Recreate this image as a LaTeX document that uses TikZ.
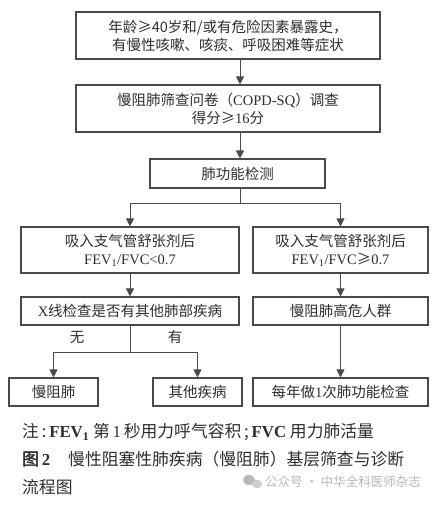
\documentclass[tikz,border=0pt]{standalone}
\usepackage{fontspec}
\setmainfont{Liberation Serif}
\newfontfamily\cjk{Noto Sans CJK SC}
\newfontfamily\cjkb[FakeBold=2]{Noto Sans CJK SC}
\newfontfamily\lat{Liberation Serif}
\usetikzlibrary{arrows.meta}
\definecolor{linec}{HTML}{4A4A4A}
\definecolor{textc}{HTML}{2E2E2E}
\definecolor{wmc}{HTML}{B8B8B8}
\begin{document}
\begin{tikzpicture}[x=1pt,y=-1pt,
  box/.style={draw=linec, line width=1.1pt, rectangle, align=center, inner sep=0pt,
    font=\cjk\fontsize{14.5}{18}\selectfont, text=textc},
  arr/.style={draw=linec, line width=1pt, -{Triangle[width=8pt,length=8pt]}},
  ln/.style={draw=linec, line width=1pt},
  lbl/.style={font=\cjk\fontsize{14.5}{18}\selectfont, text=textc, inner sep=0pt},
  captxt/.style={font=\cjk\fontsize{16.8}{20}\selectfont, text=textc, inner sep=0pt, anchor=west}]
\useasboundingbox[fill=white] (0,0) rectangle (440,512);

\node[box, minimum width=304pt, minimum height=47pt] (b1) at (228,35.5)
  {年龄≥40岁和/或有危险因素暴露史，\\有慢性咳嗽、咳痰、呼吸困难等症状};
\node[box, minimum width=304pt, minimum height=47pt] (b2) at (228,108.5)
  {慢阻肺筛查问卷（{\lat COPD-SQ}）调查\\得分≥{\lat 16}分};
\node[box, minimum width=175pt, minimum height=29pt] (b3) at (237.5,173.5)
  {肺功能检测};

\node[box, minimum width=218pt, minimum height=46pt] (l1) at (130,250)
  {吸入支气管舒张剂后\\{\lat FEV\textsubscript{1}/FVC<0.7}};
\node[box, minimum width=175pt, minimum height=46pt] (r1) at (340.5,250)
  {吸入支气管舒张剂后\\{\lat FEV\textsubscript{1}/FVC}≥{\lat 0.7}};

\node[box, minimum width=218pt, minimum height=28pt] (l2) at (130,311)
  {{\lat X}线检查是否有其他肺部疾病};
\node[box, minimum width=175pt, minimum height=28pt] (r2) at (340.5,311)
  {慢阻肺高危人群};

\node[box, minimum width=89pt, minimum height=28pt] (m1) at (53.5,392) {慢阻肺};
\node[box, minimum width=89pt, minimum height=28pt] (m2) at (197.5,392) {其他疾病};
\node[box, minimum width=175pt, minimum height=28pt] (r3) at (340.5,392)
  {每年做{\lat 1}次肺功能检查};

\node[lbl] (wu) at (77,337) {无};
\node[lbl] (you) at (175,337) {有};

\coordinate (ax) at (240,0);
\coordinate (j1) at (240,203);
\coordinate (j2) at (130,352);

\draw[arr] (b1.south -| ax) -- (b2.north -| ax);
\draw[arr] (b2.south -| ax) -- (b3.north -| ax);
\draw[ln] (b3.south -| ax) -- (j1);
\draw[arr] (j1) -| (l1.north);
\draw[arr] (j1) -| (r1.north);
\draw[arr] (l1) -- (l2);
\draw[arr] (r1) -- (r2);
\draw[arr] (r2) -- (r3);
\draw[ln] (l2.south) -- (j2);
\draw[arr] (j2) -| (m1.north);
\draw[arr] (j2) -| (m2.north);

\node[captxt] (note) at (22,432) {注\,:\,{\lat\bfseries FEV\textsubscript{1}} 第\,{\lat 1}\,秒用力呼气容积\,;\,{\lat\bfseries FVC} 用力肺活量};
\node[captxt] (fig) at (22,459) {{\cjkb 图\,{\lat\bfseries 2}}};
\node[captxt] (title) at (68,459) {慢性阻塞性肺疾病（慢阻肺）基层筛查与诊断};
\node[captxt] (title2) at (22,487) {流程图};

\fill[wmc] (249,480) ellipse (6pt and 5pt);
\fill[wmc!70] (257,484) ellipse (5pt and 4.2pt);
\node[font=\cjk\fontsize{12.5}{14}\selectfont, text=wmc, anchor=west, inner sep=0pt] (wm) at (265,482)
  {公众号 · 中华全科医师杂志};
\end{tikzpicture}
\end{document}
